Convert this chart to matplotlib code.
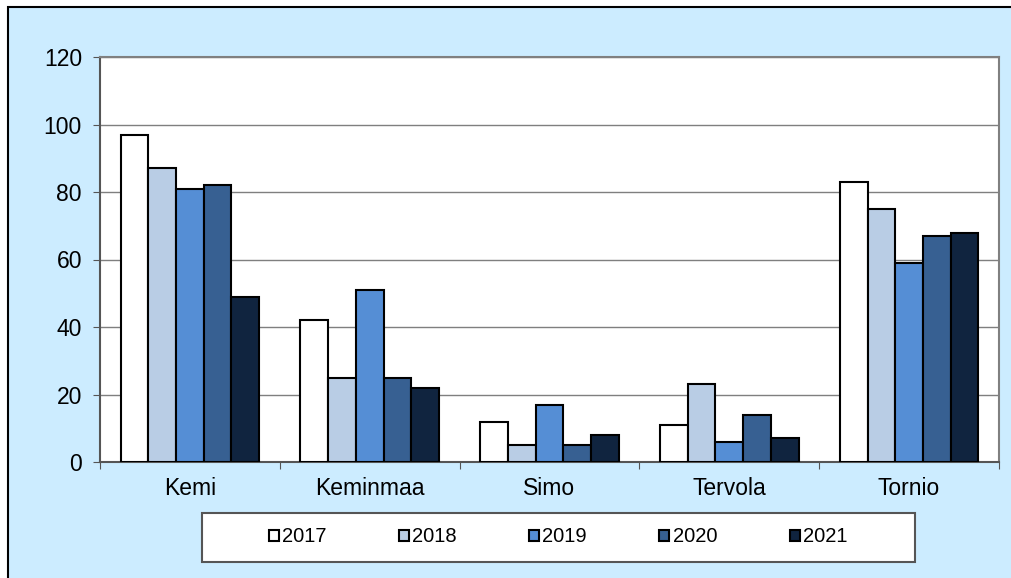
import numpy as np
import matplotlib.pyplot as plt
from matplotlib.patches import Rectangle

plt.rcParams['font.family'] = ['Liberation Sans', 'DejaVu Sans']

kunnat = ['Kemi', 'Keminmaa', 'Simo', 'Tervola', 'Tornio']
vuodet = ['2017', '2018', '2019', '2020', '2021']
arvot = {
    '2017': [97, 42, 12, 11, 83],
    '2018': [87, 25, 5, 23, 75],
    '2019': [81, 51, 17, 6, 59],
    '2020': [82, 25, 5, 14, 67],
    '2021': [49, 22, 8, 7, 68],
}
varit = ['#FFFFFF', '#B9CDE5', '#558ED5', '#376092', '#10243F']

fig = plt.figure(figsize=(10.12, 5.78), dpi=100, facecolor='white')

# vaaleansininen tausta + musta reunaviiva ylhaalla ja vasemmalla
tausta = Rectangle((8 / 1012, -0.1), 1.1, 1 - 7 / 578 + 0.1, transform=fig.transFigure,
                   facecolor='#CCECFF', edgecolor='black', linewidth=1.5, zorder=-10)
fig.patches.append(tausta)

ax = fig.add_axes([100 / 1012, 1 - 462 / 578, 899 / 1012, 405 / 578])
ax.set_facecolor('white')

x = np.arange(len(kunnat))
leveys = 0.154
for i, v in enumerate(vuodet):
    ax.bar(x + (i - 2) * leveys, arvot[v], leveys, color=varit[i], edgecolor='black',
           linewidth=1.5, label=v, zorder=3)

ax.set_xlim(-0.5, 4.5)
ax.set_ylim(0, 120)
ax.set_yticks(np.arange(0, 121, 20))
ax.yaxis.grid(True, color='#7f7f7f', linewidth=1, zorder=0)

ax.set_xticks(np.arange(-0.5, 5, 1))
ax.set_xticklabels([])
ax.set_xticks(x, minor=True)
ax.set_xticklabels(kunnat, minor=True)
ax.tick_params(axis='x', which='minor', length=0, pad=11, labelsize=16.5)
ax.tick_params(axis='x', which='major', length=5, color='#555555', direction='out')
ax.tick_params(axis='y', length=5, color='#555555', direction='out', labelsize=16.5, pad=8)

for s in ['top', 'right']:
    ax.spines[s].set_color('#808080')
    ax.spines[s].set_linewidth(1.5)
ax.spines['left'].set_color('#555555')
ax.spines['bottom'].set_color('#555555')
ax.spines['left'].set_linewidth(1.5)
ax.spines['bottom'].set_linewidth(1.5)

# selitteen laatikko
laatikko = Rectangle((202 / 1012, 1 - 562 / 578), 713 / 1012, 49 / 578, transform=fig.transFigure,
                     facecolor='white', edgecolor='#555555', linewidth=1.5)
fig.patches.append(laatikko)

h, l = ax.get_legend_handles_labels()
fig.legend(h, l, loc='center', bbox_to_anchor=(558 / 1012, 1 - 537 / 578), ncol=5,
           frameon=False, fontsize=14.5, handlelength=0.5, handleheight=0.5,
           handletextpad=0.15, columnspacing=3.6, borderaxespad=0)

fig.savefig('out.png', dpi=100, facecolor=fig.get_facecolor())
